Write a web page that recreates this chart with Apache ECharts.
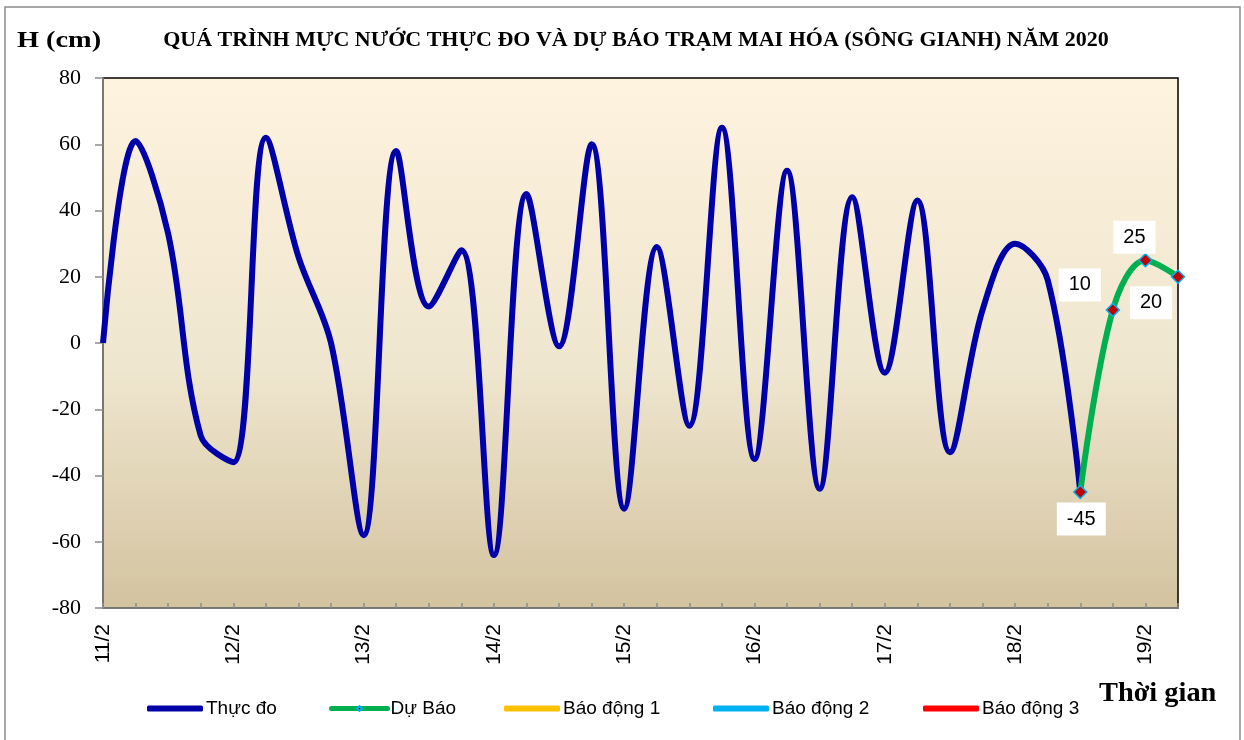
<!DOCTYPE html>
<html>
<head>
<meta charset="utf-8">
<script src="https://cdn.jsdelivr.net/npm/echarts@6/dist/echarts.min.js"></script>
<style>
html,body{margin:0;padding:0;background:#fff;}
#chart{width:1244px;height:740px;}
</style>
</head>
<body>
<div id="chart"></div>
<script>
// ---- data ----
var dayLabels = ['11/2','12/2','13/2','14/2','15/2','16/2','17/2','18/2','19/2'];
var hourLabels = ['00h','06h','12h','18h'];
var thucDo = [0, 61, 33, -28, -36, 62, 26, 0, -58, 58, 11, 28, -64, 45, -1, 60, -50, 29, -25, 65, -35, 52, -44, 44, -9, 43, -33, 10, 30, 19, -45];
var duBaoStart = 30;
var duBao = [-45, 10, 25, 20];
var yTicks = {min: -80, max: 80, step: 20};
var titleText = 'QUÁ TRÌNH MỰC NƯỚC THỰC ĐO VÀ DỰ BÁO TRẠM MAI HÓA (SÔNG GIANH) NĂM 2020';
var seriesNames = ['Thực đo', 'Dự Báo', 'Báo động 1', 'Báo động 2', 'Báo động 3'];
var seriesColors = ['#0000a8', '#00b050', '#ffc000', '#00b0f0', '#ff0000'];

// ---- build categories (6-hourly) ----
var categories = [];
dayLabels.forEach(function (d) {
  hourLabels.forEach(function (h) { categories.push(d + ' ' + h); });
});
var nPts = thucDo.length + duBao.length - 1; // 34 points
categories = categories.slice(0, nPts);

var labelOffsets = [[1, 27], [-33, -25], [-11, -23], [-27, 26]];
var forecastData = [];
for (var i = 0; i < duBaoStart; i++) forecastData.push(null);
duBao.forEach(function (v, k) {
  forecastData.push({
    value: v,
    label: {show: true, position: 'inside', offset: labelOffsets[k]}
  });
});

var legendLefts = [142, 324, 499, 708, 918];
var legends = seriesNames.map(function (n, k) {
  return {
    left: legendLefts[k], top: 694,
    itemWidth: 56, itemHeight: 6, itemGap: 0,
    lineStyle: {width: 5, cap: 'round'},
    textStyle: {fontFamily: 'Liberation Sans', fontSize: 19, color: '#000', padding: [0, 0, 0, -2]},
    data: [k === 1 ? {name: n} : {name: n, icon: 'roundRect'}]
  };
});

var chart = echarts.init(document.getElementById('chart'), null, {renderer: 'canvas'});
var option = {
  animation: false,
  backgroundColor: '#ffffff',
  graphic: [
    {type: 'rect', shape: {x: 5, y: 7, width: 1235, height: 740}, style: {fill: 'none', stroke: '#8c8c8c', lineWidth: 1.5}, z: 0},
    {type: 'text', x: 636, y: 40, style: {text: titleText, font: 'bold 22px "Liberation Serif"', fill: '#000', textAlign: 'center', textVerticalAlign: 'middle'}},
    {type: 'text', x: 17, y: 41, scaleX: 1.18, style: {text: 'H (cm)', font: 'bold 24px "Liberation Serif"', fill: '#000', textAlign: 'left', textVerticalAlign: 'middle'}},
    {type: 'text', x: 1099, y: 694, scaleX: 1.05, style: {text: 'Thời gian', font: 'bold 27px "Liberation Serif"', fill: '#000', textAlign: 'left', textVerticalAlign: 'middle'}}
  ],
  legend: legends,
  grid: {
    left: 103, top: 78, right: 66, bottom: 132,
    show: true,
    borderColor: '#000', borderWidth: 1.5,
    backgroundColor: new echarts.graphic.LinearGradient(0, 0, 0, 1, [
      {offset: 0, color: '#fef3de'},
      {offset: 0.55, color: '#efe6cf'},
      {offset: 1, color: '#d3c39f'}
    ])
  },
  xAxis: {
    type: 'category',
    data: categories,
    boundaryGap: false,
    axisLine: {onZero: false, lineStyle: {color: '#8c8c8c', width: 1.5}},
    axisTick: {show: true, inside: true, interval: 0, length: 5, lineStyle: {color: '#8c8c8c', width: 1.5}},
    axisLabel: {
      interval: 3, rotate: 90, margin: 16,
      fontFamily: 'Liberation Sans', fontSize: 21, color: '#000',
      formatter: function (v) { return v.split(' ')[0]; }
    },
    splitLine: {show: false}
  },
  yAxis: {
    type: 'value',
    min: yTicks.min, max: yTicks.max, interval: yTicks.step,
    axisLine: {show: true, lineStyle: {color: '#8c8c8c', width: 1.5}},
    axisTick: {show: true, length: 8, lineStyle: {color: '#8c8c8c', width: 1.5}},
    axisLabel: {fontFamily: 'Liberation Serif', fontSize: 22, color: '#000', margin: 22},
    splitLine: {show: false}
  },
  series: [
    {
      name: seriesNames[0], type: 'line', data: thucDo, smooth: 0.35,
      symbol: 'none', lineStyle: {color: seriesColors[0], width: 6}, itemStyle: {color: seriesColors[0]}, z: 3
    },
    {
      name: seriesNames[1], type: 'line', data: forecastData, smooth: 0.35,
      symbol: 'diamond', symbolSize: 13, showAllSymbol: true,
      lineStyle: {color: seriesColors[1], width: 6},
      itemStyle: {color: '#c00000', borderColor: '#00b0f0', borderWidth: 1.5},
      label: {
        fontFamily: 'Liberation Sans', fontSize: 20, color: '#000',
        backgroundColor: '#fff', padding: [7, 10, 6, 10]
      },
      z: 4
    },
    {name: seriesNames[2], type: 'line', data: [], symbol: 'none', lineStyle: {color: seriesColors[2], width: 5}, itemStyle: {color: seriesColors[2]}},
    {name: seriesNames[3], type: 'line', data: [], symbol: 'none', lineStyle: {color: seriesColors[3], width: 5}, itemStyle: {color: seriesColors[3]}},
    {name: seriesNames[4], type: 'line', data: [], symbol: 'none', lineStyle: {color: seriesColors[4], width: 5}, itemStyle: {color: seriesColors[4]}}
  ]
};
chart.setOption(option);
</script>
</body>
</html>
